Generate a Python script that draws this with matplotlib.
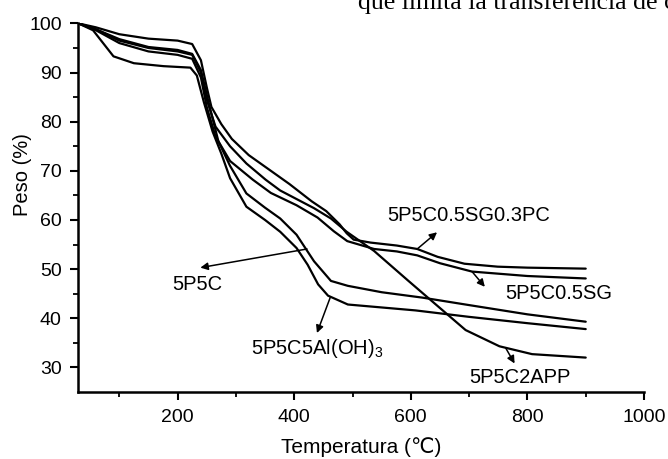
import matplotlib
matplotlib.use("Agg")
import matplotlib.pyplot as plt

plt.rcParams['font.family'] = ['Liberation Sans', 'DejaVu Sans']
plt.rcParams['mathtext.fontset'] = 'custom'
plt.rcParams['mathtext.rm'] = 'Liberation Sans'
plt.rcParams['mathtext.it'] = 'Liberation Sans'

# --- data (temperature in °C, weight in %) ---
t_sgpc = [30, 60, 100, 150, 200, 225, 240, 250, 258, 275, 293, 322, 360, 392, 430, 455, 478, 490, 502, 531, 576, 611, 646, 692, 749, 800, 900]
w_sgpc = [100, 99.2, 97.8, 96.9, 96.5, 95.8, 92.5, 87, 83, 79.5, 76.5, 73.2, 70, 67.3, 63.8, 61.8, 59.1, 57.3, 56.0, 55.4, 54.8, 54.1, 52.5, 51.1, 50.5, 50.3, 50.1]

t_app = [30, 60, 100, 150, 200, 225, 240, 250, 265, 290, 318, 351, 376, 434, 463, 490, 537, 595, 641, 694, 752, 808, 900]
w_app = [100, 98.8, 96.5, 95.0, 94.3, 93.6, 90, 84.5, 79, 75, 71.5, 68.2, 66.0, 62.4, 60.3, 57.6, 53.7, 47.7, 43.0, 37.6, 34.3, 32.7, 32.0]

t_sg = [30, 60, 100, 150, 200, 225, 240, 250, 265, 290, 329, 360, 404, 440, 468, 491, 537, 576, 611, 650, 705, 800, 900]
w_sg = [100, 98.6, 96.0, 94.3, 93.6, 92.8, 89, 83, 77, 72, 68.2, 65.5, 63.0, 60.5, 57.7, 55.7, 54.1, 53.6, 52.8, 51.2, 49.5, 48.6, 48.1]

t_p5c = [30, 60, 100, 150, 200, 225, 240, 255, 270, 290, 318, 350, 376, 404, 434, 463, 492, 550, 620, 699, 800, 900]
w_p5c = [100, 98.8, 96.8, 95.2, 94.6, 93.8, 90.5, 83, 76, 71, 65.4, 62.5, 60.3, 57, 51.6, 47.6, 46.6, 45.3, 44.2, 42.7, 40.8, 39.3]

t_al = [30, 55, 90, 125, 176, 222, 233, 245, 260, 275, 290, 318, 350, 376, 404, 423, 441, 458, 492, 550, 608, 699, 800, 900]
w_al = [100, 98.6, 93.3, 91.9, 91.3, 91.0, 89.4, 84, 78, 73.5, 68.5, 62.7, 60, 57.6, 54.3, 50.9, 46.9, 44.6, 42.8, 42.2, 41.6, 40.3, 39.0, 37.8]

x_ticks = [200, 400, 600, 800, 1000]
y_ticks = [30, 40, 50, 60, 70, 80, 90, 100]

fig = plt.figure(figsize=(6.68, 4.59), dpi=100)
ax = fig.add_axes([0.1175, 0.146, 0.8466, 0.803])

for t, w in [(t_sgpc, w_sgpc), (t_app, w_app), (t_sg, w_sg), (t_p5c, w_p5c), (t_al, w_al)]:
    ax.plot(t, w, color='black', lw=1.6, solid_capstyle='round', solid_joinstyle='round')

ax.set_xlim(30, 1000)
ax.set_ylim(25, 100)
ax.set_xticks(x_ticks)
ax.set_yticks(y_ticks)
ax.set_xticks([100, 300, 500, 700, 900], minor=True)
ax.set_yticks([35, 45, 55, 65, 75, 85, 95], minor=True)
ax.spines['top'].set_visible(False)
ax.spines['right'].set_visible(False)
for s in ['left', 'bottom']:
    ax.spines[s].set_linewidth(1.8)
ax.tick_params(which='major', direction='out', length=6, width=1.5, labelsize=14, pad=6)
ax.tick_params(which='minor', direction='out', length=3.5, width=1.3)

ax.set_xlabel('Temperatura (\u2103)', fontsize=15, labelpad=8)
ax.set_ylabel('Peso (%)', fontsize=14.5)
ax.yaxis.set_label_coords(-0.082, 0.59)

fs = 14.5
arrow = dict(arrowstyle='-|>', color='black', lw=1.1, mutation_scale=11, shrinkA=0, shrinkB=0)
ax.annotate('', xy=(645, 57.5), xytext=(611, 54.1), arrowprops=arrow)
ax.text(699, 61.0, '5P5C0.5SG0.3PC', fontsize=fs, ha='center', va='center')
ax.annotate('', xy=(727, 46.4), xytext=(705, 49.5), arrowprops=arrow)
ax.text(853, 45.1, '5P5C0.5SG', fontsize=fs, ha='center', va='center')
ax.annotate('', xy=(239, 50.3), xytext=(422, 54.1), arrowprops=arrow)
ax.text(233, 46.8, '5P5C', fontsize=fs, ha='center', va='center')
ax.annotate('', xy=(439, 37.0), xytext=(462, 44.3), arrowprops=arrow)
ax.text(439, 33.9, '5P5C5Al(OH)$_3$', fontsize=fs, ha='center', va='center')
ax.annotate('', xy=(778, 30.8), xytext=(763, 33.9), arrowprops=arrow)
ax.text(787, 28.0, '5P5C2APP', fontsize=fs, ha='center', va='center')

fig.text(358 / 668, 1 - 9 / 459, 'que limita la transferencia de c', family='Liberation Serif',
         fontsize=18.5, ha='left', va='baseline')

fig.savefig('out.png', dpi=100)
